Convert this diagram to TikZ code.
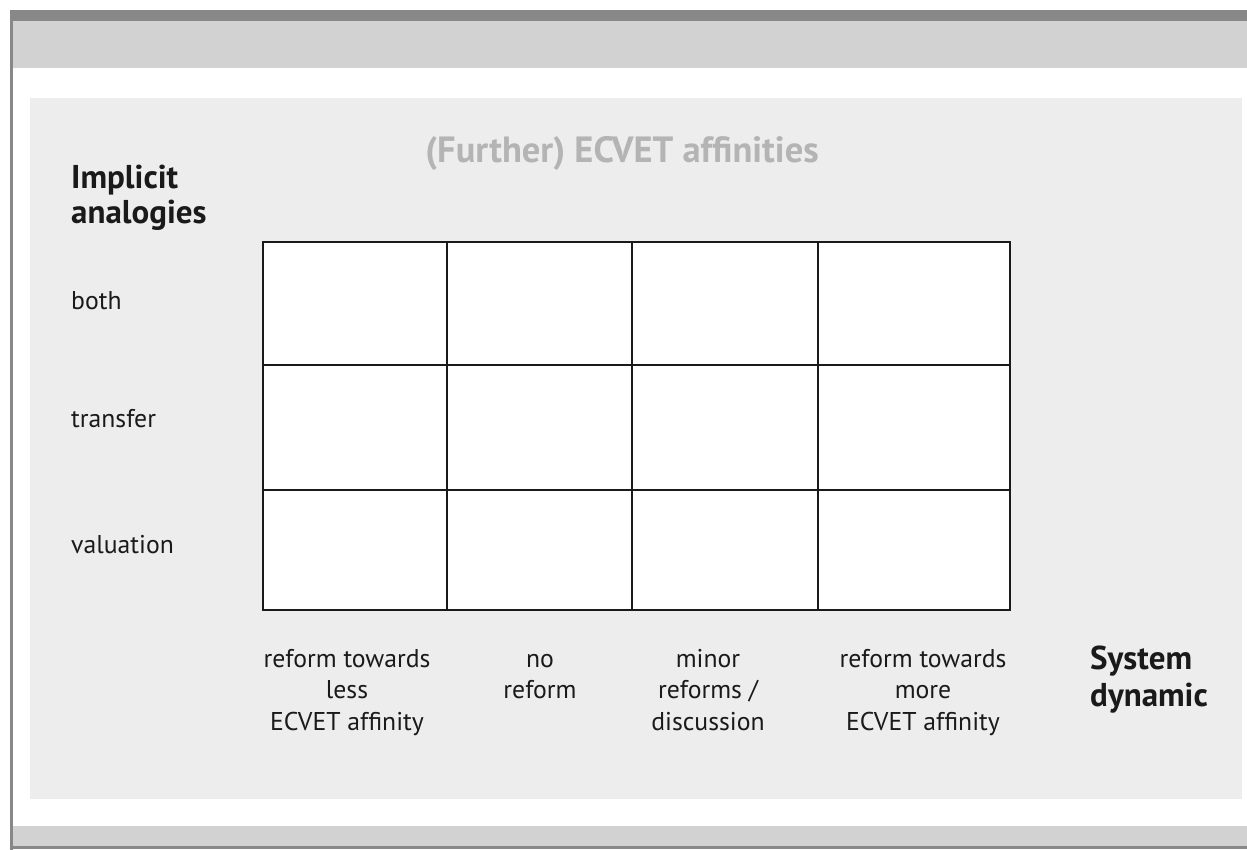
\documentclass[tikz,border=0pt]{standalone}
\usepackage{fontspec}
\setmainfont{PT Sans}
\definecolor{darkbar}{HTML}{888888}
\definecolor{lightbar}{HTML}{D2D2D2}
\definecolor{panel}{HTML}{EDEDED}
\definecolor{titlegray}{HTML}{B4B4B4}
\definecolor{ink}{HTML}{1A1A1A}
\tikzset{
  cell/.style={draw=ink, line width=2pt, fill=white},
  rowlabel/.style={anchor=base west, inner sep=0pt, text=ink, font=\fontsize{25.7}{30}\selectfont},
  collabel/.style={anchor=north, inner sep=0pt, align=center, text=ink, font=\fontsize{25.7}{31.5}\selectfont},
  axislabel/.style={anchor=north west, inner sep=0pt, align=left, text=ink, font=\fontsize{33}{36}\selectfont\bfseries},
  titlelabel/.style={anchor=base, inner sep=0pt, text=titlegray, font=\fontsize{36.5}{40}\selectfont\bfseries}
}
\begin{document}
\begin{tikzpicture}[x=1pt,y=-1pt]
\useasboundingbox (0,0) rectangle (1247,850);
\fill[white] (0,0) rectangle (1247,850);
% frame bars
\fill[darkbar] (10,10) rectangle (1247,21);
\fill[lightbar] (13,21) rectangle (1247,68);
\fill[darkbar] (10,10) rectangle (13,850);
\fill[lightbar] (13,826) rectangle (1247,846);
\fill[darkbar] (10,846) rectangle (1247,849);
% panel
\fill[panel] (30,98) rectangle (1242,799);
% title
\node[titlelabel] (title) at (622,163) {(Further) ECVET affinities};
% vertical axis label
\node[axislabel] (yaxis) at (71,188-0.7*36) {\strut Implicit\\[-1pt]analogies};
% row labels
\node[rowlabel] (rboth) at (71,309) {both};
\node[rowlabel] (rtransfer) at (71,427) {transfer};
\node[rowlabel] (rvaluation) at (71,553) {valuation};
% grid cells
\foreach \r/\ya/\yb in {1/242/365,2/365/490,3/490/610}{
  \foreach \c/\xa/\xb in {1/263/447,2/447/632,3/632/818,4/818/1010}{
    \draw[cell] (\xa,\ya) rectangle (\xb,\yb) node[midway, inner sep=0pt] (cell\r\c) {};
  }
}
% column labels
\node[collabel] (c1) at (347,667-0.7*31.5) {\strut reform towards\\less\\ECVET affinity};
\node[collabel] (c2) at (540,667-0.7*31.5) {\strut no\\reform};
\node[collabel] (c3) at (708,667-0.7*31.5) {\strut minor\\reforms /\\discussion};
\node[collabel] (c4) at (923,667-0.7*31.5) {\strut reform towards\\more\\ECVET affinity};
% horizontal axis label
\node[axislabel] (xaxis) at (1090,669-0.7*36) {\strut System\\[1pt]dynamic};
\end{tikzpicture}
\end{document}
